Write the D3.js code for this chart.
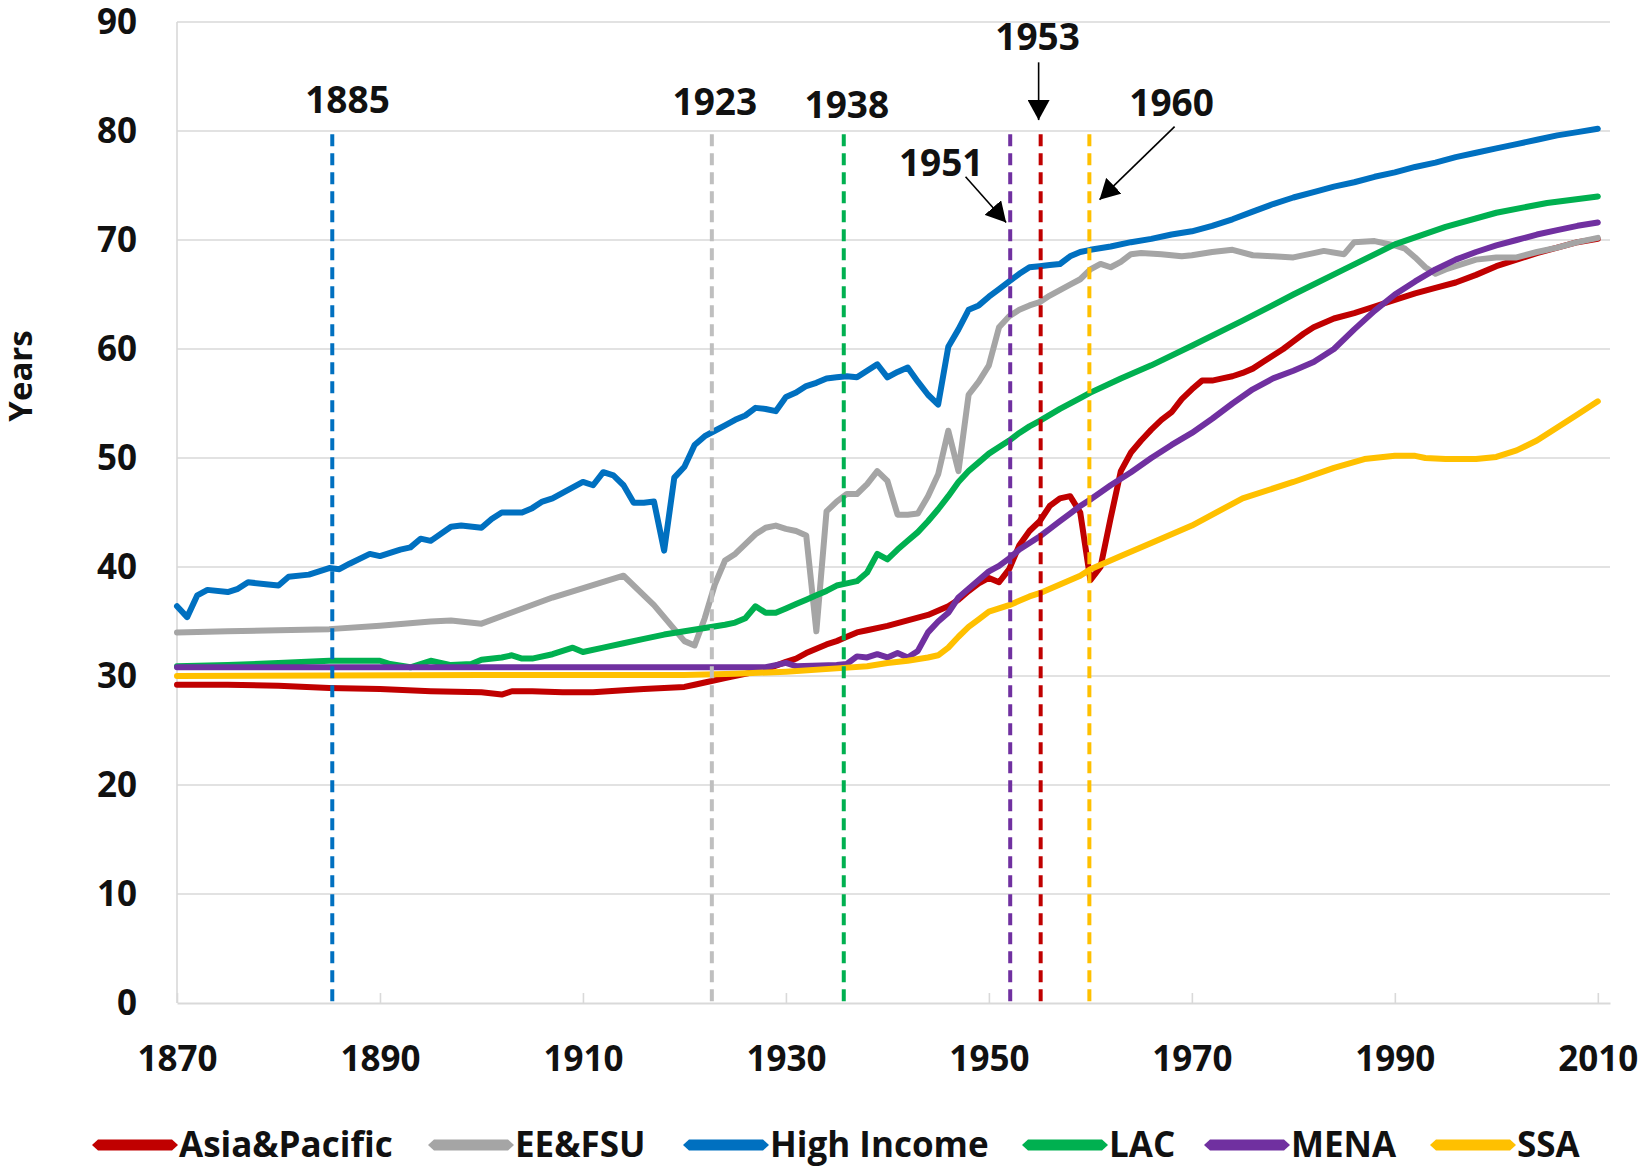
<!DOCTYPE html>
<html>
<head>
<meta charset="utf-8">
<script src="https://cdn.jsdelivr.net/npm/d3@7"></script>
<style>
  html, body { margin: 0; padding: 0; background: #fff; }
  svg { display: block; }
  text { font-family: "Open Sans", "Noto Sans", sans-serif; font-weight: 700; fill: #111; }
</style>
</head>
<body>
<svg id="chart" width="1650" height="1167"></svg>
<script>
// ---------------- DATA ----------------
const seriesNames = ["Asia&Pacific", "EE&FSU", "High Income", "LAC", "MENA", "SSA"];
const seriesColors = ["#C00000", "#A5A5A5", "#0070C0", "#00B050", "#7030A0", "#FFC000"];

const xTicks = [1870, 1890, 1910, 1930, 1950, 1970, 1990, 2010];
const yTicks = [0, 10, 20, 30, 40, 50, 60, 70, 80, 90];

const asiaPacific = [
  [1870,29.2],[1875,29.2],[1880,29.1],[1885,28.9],[1890,28.8],[1895,28.6],[1900,28.5],[1902,28.3],[1903,28.6],
  [1905,28.6],[1908,28.5],[1911,28.5],[1914,28.7],[1916,28.8],[1918,28.9],[1920,29.0],[1921,29.2],[1922,29.4],
  [1924,29.8],[1926,30.2],[1928,30.6],[1930,31.3],[1931,31.6],[1932,32.1],[1933,32.5],[1934,32.9],[1935,33.2],
  [1936,33.6],[1937,34.0],[1938,34.2],[1940,34.6],[1942,35.1],[1944,35.6],[1946,36.4],[1947,37.0],[1948,37.8],
  [1949,38.5],[1950,39.0],[1951,38.6],[1952,39.8],[1953,42.0],[1954,43.3],[1955,44.2],[1956,45.6],[1957,46.3],
  [1958,46.5],[1959,45.0],[1960,38.8],[1961,40.0],[1962,44.5],[1963,48.8],[1964,50.5],[1965,51.6],[1966,52.6],
  [1967,53.5],[1968,54.2],[1969,55.4],[1970,56.3],[1971,57.1],[1972,57.1],[1973,57.3],[1974,57.5],[1975,57.8],
  [1976,58.2],[1977,58.8],[1978,59.4],[1979,60.0],[1980,60.7],[1981,61.4],[1982,62.0],[1984,62.8],[1986,63.3],
  [1988,63.9],[1990,64.5],[1992,65.1],[1994,65.6],[1996,66.1],[1998,66.8],[2000,67.6],[2002,68.2],[2004,68.8],
  [2006,69.3],[2008,69.8],[2010,70.1]
];

const eeFsu = [
  [1870,34.0],[1875,34.1],[1880,34.2],[1885,34.3],[1890,34.6],[1895,35.0],[1897,35.1],[1900,34.8],[1907,37.2],
  [1914,39.2],[1917,36.5],[1920,33.2],[1921,32.8],[1922,35.3],[1923,38.4],[1924,40.6],[1925,41.2],[1926,42.1],
  [1927,43.0],[1928,43.6],[1929,43.8],[1930,43.5],[1931,43.3],[1932,42.9],[1933,34.1],[1934,45.1],[1935,46.0],
  [1936,46.7],[1937,46.7],[1938,47.6],[1939,48.8],[1940,47.9],[1941,44.8],[1942,44.8],[1943,44.9],[1944,46.5],
  [1945,48.5],[1946,52.5],[1947,48.8],[1948,55.8],[1949,57.0],[1950,58.5],[1951,62.0],[1952,63.0],[1953,63.6],
  [1954,64.0],[1955,64.3],[1956,64.9],[1957,65.4],[1958,65.9],[1959,66.4],[1960,67.3],[1961,67.8],[1962,67.5],
  [1963,68.0],[1964,68.7],[1965,68.8],[1967,68.7],[1969,68.5],[1970,68.6],[1972,68.9],[1974,69.1],[1976,68.6],
  [1978,68.5],[1980,68.4],[1982,68.8],[1983,69.0],[1985,68.7],[1986,69.8],[1988,69.9],[1990,69.5],[1991,69.2],
  [1992,68.4],[1993,67.5],[1994,66.9],[1995,67.3],[1996,67.6],[1998,68.2],[2000,68.4],[2002,68.4],[2004,68.9],
  [2006,69.3],[2008,69.8],[2010,70.2]
];

const highIncome = [
  [1870,36.4],[1871,35.4],[1872,37.4],[1873,37.9],[1875,37.7],[1876,38.0],[1877,38.6],[1879,38.4],[1880,38.3],
  [1881,39.1],[1883,39.3],[1885,39.9],[1886,39.8],[1887,40.3],[1889,41.2],[1890,41.0],[1892,41.6],[1893,41.8],
  [1894,42.6],[1895,42.4],[1897,43.7],[1898,43.8],[1900,43.6],[1901,44.4],[1902,45.0],[1904,45.0],[1905,45.4],
  [1906,46.0],[1907,46.3],[1908,46.8],[1909,47.3],[1910,47.8],[1911,47.5],[1912,48.7],[1913,48.4],[1914,47.5],
  [1915,45.9],[1916,45.9],[1917,46.0],[1918,41.5],[1919,48.2],[1920,49.2],[1921,51.2],[1922,52.0],[1923,52.5],
  [1924,53.0],[1925,53.5],[1926,53.9],[1927,54.6],[1928,54.5],[1929,54.3],[1930,55.6],[1931,56.0],[1932,56.6],
  [1933,56.9],[1934,57.3],[1935,57.4],[1936,57.5],[1937,57.4],[1938,58.0],[1939,58.6],[1940,57.4],[1941,57.9],
  [1942,58.3],[1943,57.0],[1944,55.8],[1945,54.9],[1946,60.2],[1947,61.8],[1948,63.6],[1949,64.0],[1950,64.8],
  [1951,65.5],[1952,66.2],[1953,66.9],[1954,67.5],[1955,67.6],[1956,67.7],[1957,67.8],[1958,68.5],[1959,68.9],
  [1960,69.1],[1962,69.4],[1964,69.8],[1966,70.1],[1968,70.5],[1970,70.8],[1972,71.3],[1974,71.9],[1976,72.6],
  [1978,73.3],[1980,73.9],[1982,74.4],[1984,74.9],[1986,75.3],[1988,75.8],[1990,76.2],[1992,76.7],[1994,77.1],
  [1996,77.6],[1998,78.0],[2000,78.4],[2002,78.8],[2004,79.2],[2006,79.6],[2008,79.9],[2010,80.2]
];

const lac = [
  [1870,30.9],[1875,31.0],[1880,31.2],[1885,31.4],[1890,31.4],[1891,31.1],[1893,30.8],[1895,31.4],[1897,31.0],
  [1899,31.1],[1900,31.5],[1902,31.7],[1903,31.9],[1904,31.6],[1905,31.6],[1907,32.0],[1909,32.6],[1910,32.2],
  [1912,32.6],[1914,33.0],[1916,33.4],[1918,33.8],[1920,34.1],[1922,34.4],[1924,34.7],[1925,34.9],[1926,35.3],
  [1927,36.4],[1928,35.8],[1929,35.8],[1930,36.2],[1931,36.6],[1932,37.0],[1933,37.4],[1934,37.8],[1935,38.3],
  [1936,38.5],[1937,38.7],[1938,39.5],[1939,41.2],[1940,40.7],[1941,41.6],[1942,42.4],[1943,43.2],[1944,44.2],
  [1945,45.3],[1946,46.5],[1947,47.8],[1948,48.8],[1949,49.6],[1950,50.4],[1951,51.0],[1952,51.6],[1953,52.3],
  [1954,52.9],[1955,53.4],[1957,54.5],[1959,55.5],[1960,56.0],[1963,57.3],[1966,58.5],[1970,60.3],[1975,62.6],
  [1980,65.0],[1985,67.3],[1990,69.6],[1995,71.2],[2000,72.5],[2005,73.4],[2010,74.0]
];

const mena = [
  [1870,30.8],[1900,30.8],[1928,30.8],[1929,31.0],[1930,31.2],[1931,30.9],[1935,31.0],[1936,31.1],[1937,31.8],
  [1938,31.7],[1939,32.0],[1940,31.7],[1941,32.1],[1942,31.7],[1943,32.3],[1944,34.0],[1945,35.0],[1946,35.8],
  [1947,37.2],[1948,38.0],[1949,38.8],[1950,39.6],[1951,40.1],[1952,40.8],[1953,41.6],[1954,42.2],[1955,42.8],
  [1956,43.5],[1957,44.2],[1958,44.9],[1959,45.6],[1960,46.2],[1962,47.5],[1964,48.7],[1966,50.0],[1968,51.2],
  [1970,52.3],[1972,53.6],[1974,55.0],[1976,56.3],[1978,57.3],[1980,58.0],[1982,58.8],[1984,60.0],[1986,61.8],
  [1988,63.5],[1990,65.0],[1992,66.2],[1994,67.3],[1996,68.2],[1998,68.9],[2000,69.5],[2002,70.0],[2004,70.5],
  [2006,70.9],[2008,71.3],[2010,71.6]
];

const ssa = [
  [1870,30.0],[1900,30.1],[1920,30.1],[1925,30.2],[1930,30.4],[1935,30.7],[1938,30.9],[1940,31.2],[1942,31.4],
  [1944,31.7],[1945,31.9],[1946,32.6],[1947,33.6],[1948,34.5],[1949,35.2],[1950,35.9],[1951,36.2],[1952,36.5],
  [1953,36.9],[1954,37.3],[1955,37.6],[1957,38.4],[1959,39.2],[1960,39.8],[1963,41.0],[1966,42.2],[1970,43.8],
  [1975,46.3],[1980,47.8],[1984,49.1],[1987,49.9],[1990,50.2],[1992,50.2],[1993,50.0],[1995,49.9],[1998,49.9],
  [2000,50.1],[2002,50.7],[2004,51.6],[2006,52.8],[2008,54.0],[2010,55.2]
];

const seriesData = [asiaPacific, eeFsu, highIncome, lac, mena, ssa];

// vertical dashed markers: label, drawn position (year units), colour
const markerLabels = ["1885", "1923", "1938", "1951", "1953", "1960"];
const markerPositions = [1885.3, 1922.7, 1935.7, 1952.1, 1955.1, 1959.9];
const markerColors = ["#0070C0", "#BFBFBF", "#00B050", "#7030A0", "#C00000", "#FFC000"];
// label anchor points [year, value]
const markerLabelPos = [[1886.8, 82.8], [1923.0, 82.7], [1936.0, 82.4], [1945.3, 77.1], [1954.8, 88.6], [1968.0, 82.6]];
// arrows: [fromYear, fromValue, toYear, toValue] (only 1951, 1953, 1960)
const arrows = [[1947.7, 75.8, 1951.7, 71.6], [1954.9, 86.3, 1954.9, 81.0], [1968.3, 80.4, 1960.9, 73.7]];

// ---------------- CHART ----------------
const svg = d3.select("#chart");
const x = d3.scaleLinear().domain([1870, 2011.2]).range([177, 1610]);
const y = d3.scaleLinear().domain([0, 90]).range([1003, 22]);

const FS = 35;

// gridlines
svg.append("g").selectAll("line").data(yTicks.filter(d => d > 0)).join("line")
  .attr("x1", x(1870)).attr("x2", x(2011.2))
  .attr("y1", d => y(d)).attr("y2", d => y(d))
  .attr("stroke", "#D9D9D9").attr("stroke-width", 1.6);

// left axis line
svg.append("line").attr("x1", x(1870)).attr("x2", x(1870)).attr("y1", y(90)).attr("y2", y(0))
  .attr("stroke", "#D9D9D9").attr("stroke-width", 1.6);

// x axis
const xAxis = d3.axisBottom(x).tickValues(xTicks).tickFormat(d3.format("d")).tickSizeInner(-10).tickSizeOuter(0).tickPadding(38);
const gx = svg.append("g").attr("transform", `translate(0,${y(0)})`).call(xAxis);
gx.select(".domain").attr("stroke", "#D9D9D9").attr("stroke-width", 1.8);
gx.selectAll(".tick line").attr("stroke", "#D9D9D9").attr("stroke-width", 1.6);
gx.selectAll(".tick text").attr("font-size", FS).attr("font-family", "Open Sans, Noto Sans, sans-serif")
  .attr("font-weight", 700).attr("fill", "#111").attr("dy", "0.32em").attr("y", 57);

// y axis
const yAxis = d3.axisLeft(y).tickValues(yTicks).tickSize(0).tickPadding(40);
const gy = svg.append("g").attr("transform", `translate(${x(1870)},0)`).call(yAxis);
gy.select(".domain").remove();
gy.selectAll(".tick text").attr("font-size", FS).attr("font-family", "Open Sans, Noto Sans, sans-serif")
  .attr("font-weight", 700).attr("fill", "#111");

// y title
svg.append("text").attr("transform", "translate(20,376) rotate(-90)")
  .attr("text-anchor", "middle").attr("dy", "0.35em").attr("font-size", 33).text("Years");

// series lines
const line = d3.line().x(d => x(d[0])).y(d => y(d[1]));
svg.append("g").selectAll("path").data(seriesData).join("path")
  .attr("d", line).attr("fill", "none")
  .attr("stroke", (d, i) => seriesColors[i]).attr("stroke-width", 6)
  .attr("stroke-linejoin", "round").attr("stroke-linecap", "round");

// dashed markers
svg.append("g").selectAll("line").data(markerPositions).join("line")
  .attr("x1", d => x(d)).attr("x2", d => x(d))
  .attr("y1", y(79.7)).attr("y2", y(0))
  .attr("stroke", (d, i) => markerColors[i]).attr("stroke-width", 4)
  .attr("stroke-dasharray", "12,7");

// marker labels
svg.append("g").selectAll("text").data(markerLabels).join("text")
  .attr("x", (d, i) => x(markerLabelPos[i][0])).attr("y", (d, i) => y(markerLabelPos[i][1]))
  .attr("text-anchor", "middle").attr("dy", "0.35em").attr("font-size", 37).text(d => d);

// arrows
const defs = svg.append("defs");
defs.append("marker").attr("id", "ah").attr("viewBox", "0 0 20 22").attr("refX", 20).attr("refY", 11)
  .attr("markerWidth", 20).attr("markerHeight", 22).attr("markerUnits", "userSpaceOnUse").attr("orient", "auto")
  .append("path").attr("d", "M0,0 L20,11 L0,22 Z").attr("fill", "#000");
svg.append("g").selectAll("line").data(arrows).join("line")
  .attr("x1", d => x(d[0])).attr("y1", d => y(d[1]))
  .attr("x2", d => x(d[2])).attr("y2", d => y(d[3]))
  .attr("stroke", "#000").attr("stroke-width", 1.6).attr("marker-end", "url(#ah)");

// legend
const legendX = [92, 428, 683, 1022, 1204, 1430];
const LY = 1145;
const lg = svg.append("g").selectAll("g").data(seriesNames).join("g")
  .attr("transform", (d, i) => `translate(${legendX[i]},${LY})`);
lg.append("path")
  .attr("d", "M0,0 L6,-5.5 L80,-5.5 L86,0 L80,5.5 L6,5.5 Z")
  .attr("fill", (d, i) => seriesColors[i]);
lg.append("text").attr("x", 87).attr("dy", "0.35em").attr("font-size", FS).text(d => d);
</script>
</body>
</html>
